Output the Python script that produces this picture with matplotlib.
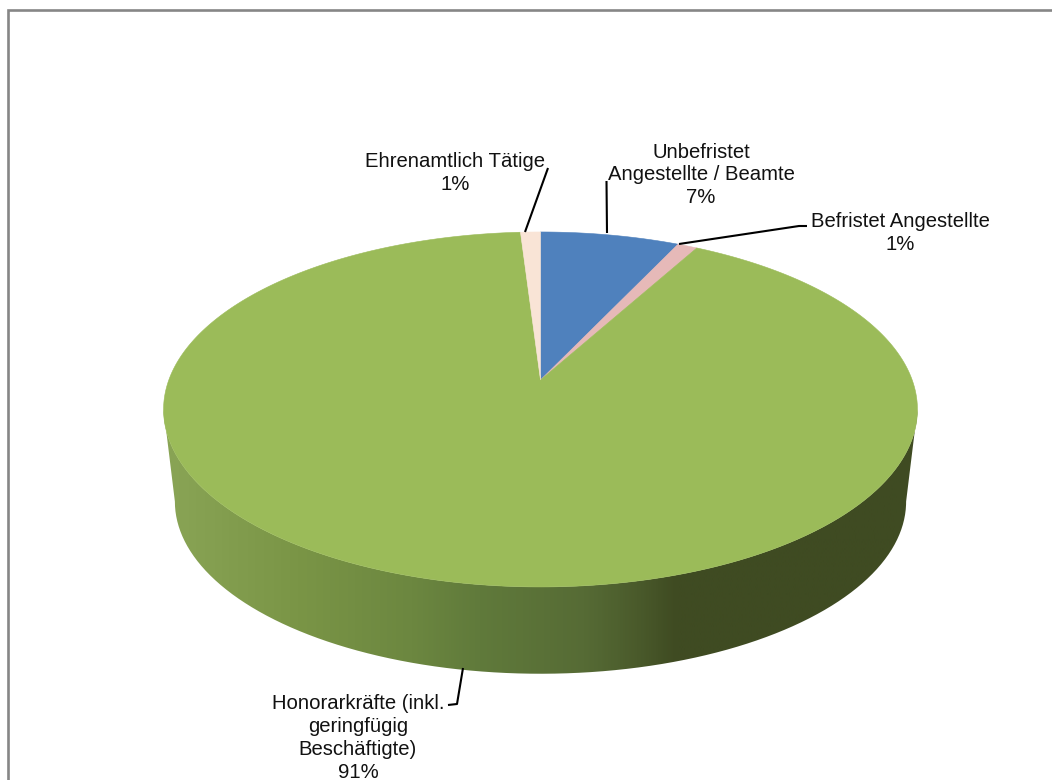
import numpy as np
import matplotlib
matplotlib.use('Agg')
import matplotlib.pyplot as plt
from matplotlib.colors import LinearSegmentedColormap
from matplotlib.patches import PathPatch, Polygon
from matplotlib.path import Path

plt.rcParams['font.family'] = ['Liberation Sans', 'DejaVu Sans']

# Anteile je Beschäftigungsart, im Uhrzeigersinn ab 12 Uhr
kategorien = ['Unbefristet\nAngestellte / Beamte', 'Befristet Angestellte',
              'Honorarkräfte (inkl.\ngeringfügig\nBeschäftigte)', 'Ehrenamtlich Tätige']
anteile = [7, 1, 91, 1]
farben = ['#4F81BD', '#E6B9B8', '#9BBB59', '#F9E4D6']

# Perspektive der Tortenoberseite, in Pixeln
CX, CY = 540.5, 380
A, B, K = 371.7, 172.6, 0.166
TIEFE_Y, TIEFE_SCALE = 93, 0.97


def projektion(winkel, scale=1.0, dy=0.0):
    u, v = np.sin(winkel), np.cos(winkel)
    w = 1 + K * v
    return np.column_stack([CX + scale * A * u / w, CY + dy + scale * B * -v / w])


fig = plt.figure(figsize=(10.52, 7.8), dpi=100)
ax = fig.add_axes([0, 0, 1, 1])
ax.set_xlim(0, 1052)
ax.set_ylim(780, 0)
ax.axis('off')

# Rahmen oben und links
ax.plot([7.5, 7.5, 1052], [780, 10, 10], color='#868686', lw=1.9, solid_joinstyle='miter')

# Seitenwand mit horizontalem Verlauf, von Tangente zu Tangente
theta = np.linspace(np.pi / 2 + K, 3 * np.pi / 2 - K, 300)
oben = projektion(theta)
unten = projektion(theta, TIEFE_SCALE, TIEFE_Y)
wand = Path(np.vstack([oben, unten[::-1], oben[:1]]), closed=False)
verlauf = LinearSegmentedColormap.from_list('wand', [
    (0.0, '#8AA556'), (0.18, '#7A9546'), (0.33, '#6C8740'), (0.42, '#607A3B'),
    (0.56, '#566B35'), (0.63, '#4A5A2B'), (0.68, '#3F4B22'), (1.0, '#3F4B22')])
bild = ax.imshow(np.linspace(0, 1, 400)[None, :], cmap=verlauf, aspect='auto',
                 extent=(160, 920, 780, 300), zorder=1, interpolation='bilinear')
bild.set_clip_path(PathPatch(wand, transform=ax.transData))
ax.set_xlim(0, 1052)
ax.set_ylim(780, 0)

# Segmente der Oberseite
grenzen = np.cumsum([0] + anteile) / sum(anteile) * 2 * np.pi
for start, ende, farbe in zip(grenzen[:-1], grenzen[1:], farben):
    bogen = projektion(np.linspace(start, ende, 400))
    ax.add_patch(Polygon(np.vstack([[CX, CY], bogen]), closed=True, facecolor=farbe,
                         edgecolor=farbe, lw=0.4, zorder=2))

# Führungslinien zu den Beschriftungen
linien = [([606.5, 607], [181, 233]), ([807, 799, 679], [226, 226, 244]),
          ([448, 457, 463], [705, 704, 668]), ([548, 525], [168, 232])]
for xs, ys in linien:
    ax.plot(xs, ys, color='black', lw=1.5, zorder=3, solid_capstyle='butt')

# Beschriftungen: Kategorie und Anteil
positionen = [(701, 175), (900, 233), (358, 738), (455, 173)]
for name, wert, (x, y) in zip(kategorien, anteile, positionen):
    ax.text(x, y, f'{name}\n{wert}%', ha='center', va='center', fontsize=14.6,
            color='#111111', linespacing=1.25, zorder=4)

fig.savefig('out.png', dpi=100)
